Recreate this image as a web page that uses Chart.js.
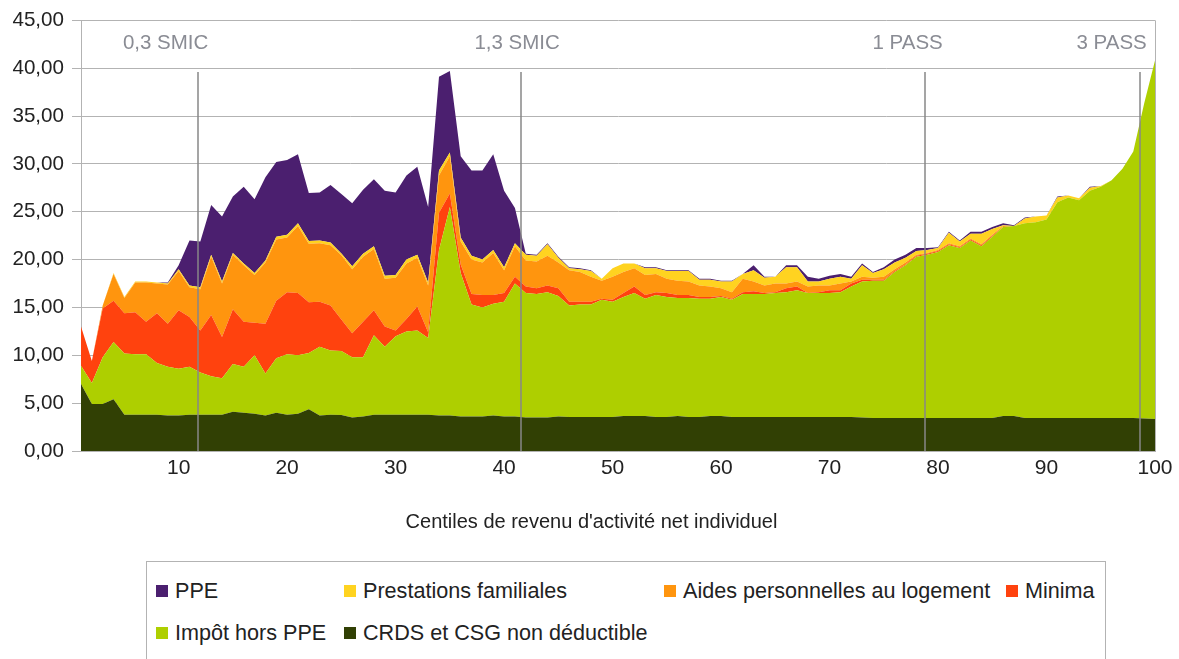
<!DOCTYPE html>
<html lang="fr">
<head>
  <meta charset="UTF-8" />
  <title>Centiles de revenu d'activité net individuel</title>
  <script src="https://cdn.jsdelivr.net/npm/chart.js"></script>
  <style>
    body {
      margin: 0;
      width: 1179px;
      height: 659px;
      overflow: hidden;
      background: #fff;
      font-family: "Liberation Sans", Arial, sans-serif;
    }
    #chartBox {
      position: absolute;
      left: 0;
      top: 0;
      width: 1179px;
      height: 545px;
    }
    #legend {
      position: absolute;
      left: 146px;
      top: 561px;
      width: 958px;
      height: 110px;
      border: 1px solid #b3b3b3;
    }
    .item {
      position: absolute;
      font-size: 21.6px;
      line-height: 24px;
      color: #222;
      white-space: nowrap;
    }
    .item i {
      display: inline-block;
      width: 12px;
      height: 12px;
      margin-right: 7px;
      vertical-align: 1px;
    }
  </style>
</head>
<body>
  <div id="chartBox">
    <canvas id="areaChart" width="1179" height="545"></canvas>
  </div>
  <div id="legend"></div>

  <script>
    // centiles 1..100
    const centiles = Array.from({length: 100}, (_, i) => i + 1);

    const crds = [
      7.0, 4.9, 4.9, 5.4, 3.8, 3.8, 3.8, 3.8, 3.7, 3.7,
      3.8, 3.8, 3.8, 3.8, 4.1, 4.0, 3.9, 3.7, 4.0, 3.8,
      3.9, 4.35, 3.7, 3.8, 3.75, 3.5, 3.6, 3.8, 3.8, 3.8,
      3.8, 3.8, 3.8, 3.7, 3.7, 3.6, 3.6, 3.6, 3.7, 3.6,
      3.6, 3.5, 3.5, 3.5, 3.6, 3.55, 3.55, 3.55, 3.55, 3.55,
      3.65, 3.65, 3.65, 3.55, 3.55, 3.65, 3.55, 3.55, 3.65, 3.65,
      3.55, 3.55, 3.55, 3.55, 3.55, 3.55, 3.55, 3.55, 3.55, 3.55,
      3.55, 3.55, 3.5, 3.45, 3.45, 3.45, 3.45, 3.45, 3.45, 3.45,
      3.45, 3.45, 3.45, 3.45, 3.45, 3.65, 3.65, 3.45, 3.45, 3.45,
      3.45, 3.45, 3.45, 3.45, 3.45, 3.45, 3.45, 3.45, 3.4, 3.35
    ];
    const impot = [
      1.9, 2.2, 4.9, 6.0, 6.4, 6.3, 6.3, 5.4, 5.1, 4.9,
      5.0, 4.4, 4.0, 3.8, 5.0, 4.8, 6.1, 4.4, 5.7, 6.3,
      6.1, 5.9, 7.2, 6.7, 6.7, 6.3, 6.2, 8.3, 7.1, 8.2,
      8.7, 8.8, 8.0, 17.3, 21.8, 15.0, 11.7, 11.4, 11.7, 12.0,
      13.9, 13.0, 12.9, 13.1, 12.6, 11.65, 11.75, 11.75, 12.25, 12.05,
      12.45, 12.85, 12.25, 12.75, 12.55, 12.35, 12.45, 12.35, 12.25, 12.45,
      12.25, 12.85, 12.85, 12.85, 12.95, 13.05, 13.25, 12.95, 12.95, 12.95,
      13.05, 13.65, 14.2, 14.35, 14.35, 15.25, 15.95, 16.85, 17.05, 17.35,
      18.05, 17.75, 18.55, 17.95, 18.95, 19.75, 19.85, 20.35, 20.45, 20.75,
      22.55, 23.05, 22.75, 23.75, 24.15, 24.85, 26.05, 27.85, 32.9, 37.45
    ];
    const minima = [
      4.1, 2.3, 5.1, 4.3, 4.2, 4.4, 3.4, 5.2, 4.5, 6.1,
      5.2, 4.4, 6.4, 4.3, 5.7, 4.7, 3.4, 5.2, 6.0, 6.5,
      6.5, 5.3, 4.7, 4.7, 3.3, 2.5, 3.7, 2.6, 2.1, 0.6,
      1.3, 2.5, 0.6, 3.9, 1.4, 0.9, 1.1, 1.3, 0.9, 0.9,
      0.7, 0.7, 0.6, 0.7, 0.8, 0.4, 0.3, 0.3, 0.1, 0.2,
      0.4, 0.7, 0.4, 0.3, 0.4, 0.3, 0.3, 0.2, 0.2, 0.1,
      0.1, 0.2, 0.3, 0.1, 0.1, 0.4, 0.4, 0.0, 0.1, 0.3,
      0.2, 0.3, 0.2, 0.1, 0.1, 0.1, 0.1, 0.1, 0.1, 0.1,
      0.1, 0.1, 0.1, 0.1, 0.1, 0, 0, 0, 0, 0,
      0, 0, 0, 0, 0, 0, 0, 0, 0, 0
    ];
    const aides = [
      0, 0, 0.3, 2.8, 1.6, 3.1, 4.1, 3.1, 4.1, 4.1,
      3.1, 4.3, 6.1, 5.6, 5.7, 5.9, 5.0, 6.4, 6.4, 5.7,
      7.0, 6.1, 6.1, 6.3, 6.7, 6.7, 6.8, 6.4, 5.0, 5.5,
      5.8, 5.1, 4.9, 3.9, 3.9, 2.4, 3.6, 3.4, 4.4, 2.4,
      3.2, 2.7, 2.8, 3.1, 2.7, 3.3, 3.1, 2.6, 1.9, 2.4,
      2.2, 1.9, 2.1, 1.9, 1.5, 1.5, 1.4, 1.2, 1.1, 0.8,
      0.7, 1.4, 1.0, 0.8, 0.9, 0.5, 0.5, 0.7, 0.7, 0.5,
      0.7, 0.2, 0.3, 0.2, 0.3, 0.2, 0.2, 0.1, 0.1, 0.1,
      0.1, 0.1, 0.1, 0.1, 0.1, 0.1, 0, 0, 0, 0,
      0, 0, 0, 0, 0, 0, 0, 0, 0, 0
    ];
    const prestations = [
      0, 0, 0, 0.1, 0.1, 0.1, 0.1, 0.1, 0.1, 0.2,
      0.2, 0.2, 0.2, 0.2, 0.2, 0.2, 0.2, 0.2, 0.3, 0.3,
      0.3, 0.3, 0.3, 0.3, 0.2, 0.3, 0.3, 0.3, 0.3, 0.3,
      0.4, 0.3, 0.3, 0.5, 0.4, 0.4, 0.4, 0.3, 0.3, 0.3,
      0.3, 0.6, 0.6, 1.2, 0.5, 0.2, 0.3, 0.6, 0.2, 0.9,
      0.9, 0.5, 0.7, 0.6, 0.8, 1.0, 1.1, 0.6, 0.7, 0.7,
      1.1, 0.5, 1.2, 0.8, 0.7, 1.7, 1.5, 0.5, 0.4, 0.7,
      0.7, 0.3, 1.2, 0.5, 0.8, 0.7, 0.5, 0.4, 0.3, 0.2,
      1.1, 0.5, 0.5, 1.1, 0.6, 0.1, 0, 0.5, 0.6, 0.4,
      0.5, 0.2, 0.2, 0.3, 0.1, 0, 0, 0, 0, 0
    ];
    const ppe = [
      0, 0, 0, 0, 0, 0, 0, 0, 0.1, 0.4,
      4.7, 4.8, 5.2, 6.8, 5.9, 8.0, 7.7, 8.7, 7.8, 7.8,
      7.2, 5.0, 5.0, 6.0, 6.2, 6.6, 6.7, 7.0, 8.9, 8.6,
      8.8, 9.2, 7.9, 9.8, 8.5, 8.5, 8.9, 9.3, 10.0, 8.0,
      3.7, 0.1, 0.1, 0.1, 0.1, 0.1, 0.1, 0.1, 0, 0,
      0, 0, 0.1, 0.1, 0.1, 0.1, 0.1, 0.1, 0.1, 0.1,
      0.1, 0, 0.5, 0.1, 0, 0.2, 0.2, 0.5, 0.3, 0.3,
      0.3, 0.2, 0.2, 0.1, 0.2, 0.3, 0.3, 0.3, 0.2, 0.1,
      0.1, 0.1, 0.2, 0.2, 0.2, 0.2, 0.1, 0.1, 0, 0,
      0.1, 0, 0, 0.1, 0, 0, 0, 0, 0, 0
    ];

    const seriesNames = ['CRDS et CSG non déductible', 'Impôt hors PPE', 'Minima',
      'Aides personnelles au logement', 'Prestations familiales', 'PPE'];
    const seriesColors = ['#314004', '#aecf00', '#ff420e', '#ff950e', '#ffd320', '#4b1f6f'];

    const xTicks = [10, 20, 30, 40, 50, 60, 70, 80, 90, 100];
    const yTicks = [0, 5, 10, 15, 20, 25, 30, 35, 40, 45];
    const xTitle = "Centiles de revenu d'activité net individuel";

    // repères verticaux (SMIC / PASS)
    const markerX = [11.8, 41.6, 78.8, 98.6];
    const markerLabels = ['0,3 SMIC', '1,3 SMIC', '1 PASS', '3 PASS'];
    const markerLabelX = [8.8, 41.2, 77.2, 96.0];

    Chart.defaults.font.family = '"Liberation Sans", Arial, sans-serif';

    const allSeries = [crds, impot, minima, aides, prestations, ppe];

    const markerPlugin = {
      id: 'markers',
      afterDatasetsDraw(chart) {
        const {ctx, chartArea, scales: {x, y}} = chart;
        ctx.save();
        ctx.strokeStyle = 'rgba(135,135,135,0.75)';
        ctx.lineWidth = 2;
        markerX.forEach(v => {
          const px = Math.round(x.getPixelForValue(v));
          ctx.beginPath();
          ctx.moveTo(px, y.getPixelForValue(39.6));
          ctx.lineTo(px, chartArea.bottom);
          ctx.stroke();
        });
        // bord droit du cadre
        ctx.strokeStyle = '#b3b3b3';
        ctx.lineWidth = 1;
        ctx.beginPath();
        ctx.moveTo(chartArea.right + 0.5, chartArea.top);
        ctx.lineTo(chartArea.right + 0.5, chartArea.bottom);
        ctx.stroke();

        ctx.fillStyle = '#8a8c94';
        ctx.font = '20.5px "Liberation Sans", Arial, sans-serif';
        ctx.textAlign = 'center';
        ctx.textBaseline = 'middle';
        markerLabels.forEach((t, k) => {
          ctx.fillText(t, x.getPixelForValue(markerLabelX[k]), y.getPixelForValue(42.6));
        });

        // titre de l'axe, centré sur toute la largeur
        ctx.fillStyle = '#222';
        ctx.font = '20px "Liberation Sans", Arial, sans-serif';
        ctx.fillText(xTitle, chart.width / 2 + 2, chartArea.bottom + 71);
        ctx.restore();
      }
    };

    const chart = new Chart(document.getElementById('areaChart'), {
      type: 'line',
      data: {
        datasets: allSeries.map((arr, k) => ({
          label: seriesNames[k],
          data: centiles.map((c, j) => ({x: c, y: arr[j]})),
          backgroundColor: seriesColors[k],
          borderColor: seriesColors[k],
          borderWidth: 0,
          fill: k === 0 ? 'origin' : '-1',
          pointRadius: 0,
          tension: 0
        }))
      },
      options: {
        responsive: false,
        animation: false,
        layout: {padding: {top: 20, right: 24, left: 0, bottom: 0}},
        plugins: {
          legend: {display: false},
          tooltip: {enabled: false}
        },
        scales: {
          x: {
            type: 'linear',
            min: 1,
            max: 100,
            afterBuildTicks: s => { s.ticks = xTicks.map(v => ({value: v})); },
            afterFit: s => { s.height = 94; },
            grid: {display: false, drawTicks: false},
            border: {display: true, color: '#b3b3b3', width: 1},
            ticks: {color: '#222', font: {size: 21}, padding: 5, maxRotation: 0, autoSkip: false}
          },
          y: {
            stacked: true,
            min: 0,
            max: 45,
            afterBuildTicks: s => { s.ticks = yTicks.map(v => ({value: v})); },
            afterFit: s => { s.width = 81; },
            grid: {color: '#b3b3b3', tickLength: 9},
            border: {display: true, color: '#b3b3b3', width: 1},
            ticks: {
              color: '#222',
              font: {size: 20.6},
              padding: 8,
              callback: v => v.toFixed(2).replace('.', ',')
            }
          }
        }
      },
      plugins: [markerPlugin]
    });

    // légende (ordre et colonnes de l'original)
    const legendOrder = [5, 4, 3, 2, 1, 0];
    const legendPos = [[9, 17], [197, 17], [517, 17], [859, 17], [9, 59], [197, 59]];
    const legend = document.getElementById('legend');
    legendOrder.forEach((k, n) => {
      const el = document.createElement('div');
      el.className = 'item';
      el.style.left = legendPos[n][0] + 'px';
      el.style.top = legendPos[n][1] + 'px';
      el.innerHTML = '<i style="background:' + seriesColors[k] + '"></i>' + seriesNames[k];
      legend.appendChild(el);
    });
  </script>
</body>
</html>
